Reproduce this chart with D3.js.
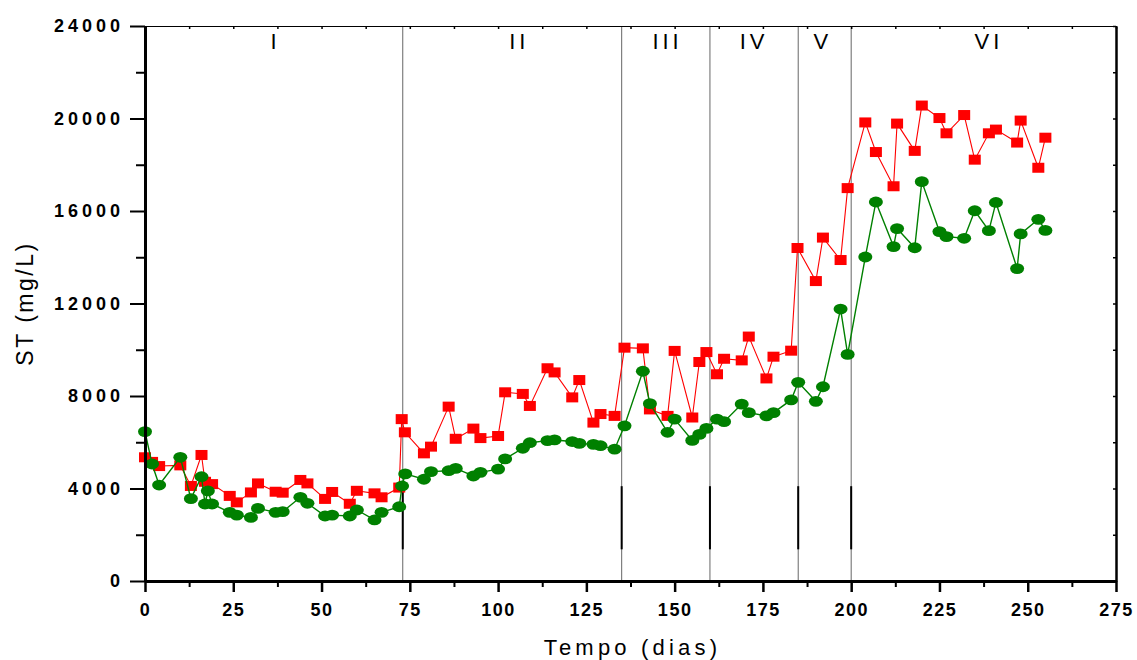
<!DOCTYPE html>
<html>
<head>
<meta charset="utf-8">
<script src="https://cdn.jsdelivr.net/npm/d3@7"></script>
<style>
  html, body { margin: 0; padding: 0; background: #fff; }
  svg { display: block; font-family: "Liberation Sans", Arial, sans-serif; }
</style>
</head>
<body>
<svg id="chart" width="1137" height="660"></svg>
<script>
// Sólidos totais ao longo do tempo (dias) — duas séries
const daysA = [0, 2, 4, 10, 13, 16, 17, 19, 24, 26, 30, 32, 37, 39, 44, 46, 51, 53, 58, 60, 65, 67, 72, 72.7, 73.6,
  79, 81, 86, 88, 93, 95, 100, 102, 107, 109, 114, 116, 121, 123, 127, 129, 133, 135.8,
  141, 143, 148, 150, 155, 157, 159, 162, 164, 169, 171, 176, 178, 183,
  184.8, 190, 192, 197, 199, 204, 207, 212, 213, 218, 220, 225, 227, 232, 235, 239, 241, 247, 248, 253, 255];
const valuesA = [5350, 5150, 4970, 5000, 4110, 5450, 4290, 4190, 3680, 3400, 3830, 4220, 3860, 3820, 4370, 4220, 3550, 3850, 3340, 3900, 3790, 3620, 4040, 7000, 6430,
  5520, 5810, 7540, 6150, 6590, 6180, 6270, 8160, 8090, 7570, 9200, 9020, 7940, 8690, 6850, 7220, 7140, 10090,
  10060, 7420, 7140, 9950, 7070, 9470, 9900, 8940, 9610, 9540, 10570, 8760, 9700, 9960,
  14400, 12970, 14850, 13880, 16990, 19830, 18550, 17070, 19780, 18600, 20560, 20020, 19360, 20150, 18220, 19360, 19520, 18960, 19910, 17870, 19170];

const daysB = [0, 2, 4, 10, 13, 16, 17, 17.8, 19, 24, 26, 30, 32, 37, 39, 44, 46, 51, 53, 58, 60, 65, 67, 72, 72.8, 73.7,
  79, 81, 86, 88, 93, 95, 100, 102, 107, 109, 114, 116, 121, 123, 127, 129, 133, 135.8,
  141, 143, 148, 150, 155, 157, 159, 162, 164, 169, 171, 176, 178, 183,
  185, 190, 192, 197, 199, 204, 207, 212, 213, 218, 220, 225, 227, 232, 235, 239, 241, 247, 248, 253, 255];
const valuesB = [6460, 5060, 4150, 5350, 3560, 4510, 3330, 3900, 3330, 2970, 2850, 2750, 3140, 2970, 3000, 3620, 3360, 2810, 2850, 2810, 3070, 2640, 2970, 3210, 4110, 4630,
  4400, 4730, 4770, 4870, 4540, 4700, 4840, 5280, 5740, 5980, 6070, 6100, 6030, 5950, 5910, 5850, 5700, 6710,
  9070, 7670, 6430, 7000, 6080, 6340, 6600, 7000, 6890, 7650, 7280, 7140, 7280, 7830,
  8590, 7770, 8400, 11760, 9800, 14010, 16390, 14460, 15240, 14410, 17270, 15110, 14890, 14820, 16010, 15150, 16370, 13510, 15010, 15640, 15160];

// Fases operacionais
const phaseBounds = [73, 135, 160, 185, 200];
const phaseNames = ["I", "II", "III", "IV", "V", "VI"];
const phaseLabelDays = [37, 106, 148, 172.5, 192, 239];

// Eixos
const xTicks = [0, 25, 50, 75, 100, 125, 150, 175, 200, 225, 250, 275];
const yTicks = [0, 4000, 8000, 12000, 16000, 20000, 24000];

const margin = { left: 145, right: 1137 - 1116, top: 26, bottom: 660 - 581 };
const W = 1137, H = 660;
const svg = d3.select("#chart");

const x = d3.scaleLinear().domain([0, 275]).range([margin.left, W - margin.right]);
const y = d3.scaleLinear().domain([0, 24000]).range([H - margin.bottom, margin.top]);

// Linhas de separação das fases
const phases = svg.append("g");
phases.selectAll("line.sep").data(phaseBounds).join("line")
  .attr("class", "sep")
  .attr("x1", d => x(d)).attr("x2", d => x(d))
  .attr("y1", y(24000)).attr("y2", y(0))
  .attr("stroke", "#666").attr("stroke-width", 1);
phases.selectAll("line.seg").data(phaseBounds).join("line")
  .attr("class", "seg")
  .attr("x1", d => x(d)).attr("x2", d => x(d))
  .attr("y1", y(4100)).attr("y2", y(1370))
  .attr("stroke", "#000").attr("stroke-width", 2);
phases.selectAll("text").data(phaseNames).join("text")
  .attr("x", (d, i) => x(phaseLabelDays[i]))
  .attr("y", 49)
  .attr("text-anchor", "middle")
  .attr("font-size", 22)
  .attr("letter-spacing", 4)
  .attr("fill", "#000")
  .text(d => d);

// Séries
function drawSeries(days, values, color, lineWidth, shape) {
  const pts = days.map((d, i) => [d, values[i]]);
  const g = svg.append("g");
  g.append("path")
    .datum(pts)
    .attr("fill", "none")
    .attr("stroke", color)
    .attr("stroke-width", lineWidth)
    .attr("d", d3.line().x(p => x(p[0])).y(p => y(p[1])));
  if (shape === "square") {
    g.selectAll("rect").data(pts).join("rect")
      .attr("x", p => x(p[0]) - 6).attr("y", p => y(p[1]) - 5)
      .attr("width", 12).attr("height", 10)
      .attr("fill", color);
  } else {
    g.selectAll("ellipse").data(pts).join("ellipse")
      .attr("cx", p => x(p[0])).attr("cy", p => y(p[1]))
      .attr("rx", 7).attr("ry", 5.4)
      .attr("fill", color);
  }
}
drawSeries(daysA, valuesA, "#ff0000", 1.1, "square");
drawSeries(daysB, valuesB, "#008000", 1.4, "circle");

// Eixo superior (ticks para dentro)
const topAxis = svg.append("g").attr("transform", `translate(0,${y(24000)})`)
  .call(d3.axisTop(x).tickValues(d3.range(0, 276, 12.5)).tickSizeInner(-3).tickSizeOuter(0).tickFormat(""));
topAxis.select(".domain").attr("stroke-width", 1.2);
topAxis.selectAll(".tick line").attr("stroke-width", 1.5);

// Eixo direito (ticks para dentro)
const rightAxis = svg.append("g").attr("transform", `translate(${x(275)},0)`)
  .call(d3.axisRight(y).tickValues(d3.range(0, 24001, 2000)).tickSizeInner(-3).tickSizeOuter(0).tickFormat(""));
rightAxis.select(".domain").attr("stroke-width", 2.5);
rightAxis.selectAll(".tick line").attr("stroke-width", 1.5);

// Eixo esquerdo
const leftMinor = svg.append("g").attr("transform", `translate(${x(0)},0)`)
  .call(d3.axisLeft(y).tickValues(d3.range(2000, 24000, 4000)).tickSizeInner(9).tickSizeOuter(0).tickFormat(""));
leftMinor.select(".domain").remove();
leftMinor.selectAll(".tick line").attr("stroke-width", 2);

const leftAxis = svg.append("g").attr("transform", `translate(${x(0)},0)`)
  .call(d3.axisLeft(y).tickValues(yTicks).tickSizeInner(15).tickSizeOuter(0).tickPadding(6).tickFormat(d3.format("d")));
leftAxis.select(".domain").attr("stroke-width", 3);
leftAxis.selectAll(".tick line").attr("stroke-width", 2);
leftAxis.selectAll(".tick text")
  .attr("font-family", "Liberation Sans, Arial, sans-serif")
  .attr("font-size", 18).attr("font-weight", "bold").attr("letter-spacing", 4).attr("fill", "#000");

// Eixo inferior
const bottomMinor = svg.append("g").attr("transform", `translate(0,${y(0)})`)
  .call(d3.axisBottom(x).tickValues(d3.range(12.5, 275, 25)).tickSizeInner(6).tickSizeOuter(0).tickFormat(""));
bottomMinor.select(".domain").remove();
bottomMinor.selectAll(".tick line").attr("stroke-width", 2);

const bottomAxis = svg.append("g").attr("transform", `translate(0,${y(0)})`)
  .call(d3.axisBottom(x).tickValues(xTicks).tickSizeInner(11).tickSizeOuter(0).tickPadding(11).tickFormat(d3.format("d")));
bottomAxis.select(".domain").attr("stroke-width", 3);
bottomAxis.selectAll(".tick line").attr("stroke-width", 2.5);
bottomAxis.selectAll(".tick text")
  .attr("font-family", "Liberation Sans, Arial, sans-serif")
  .attr("font-size", 18).attr("font-weight", "bold").attr("letter-spacing", 1.5).attr("fill", "#000");

// Títulos dos eixos
svg.append("text")
  .attr("x", (x(0) + x(275)) / 2 + 2)
  .attr("y", 655)
  .attr("text-anchor", "middle")
  .attr("font-size", 22)
  .attr("letter-spacing", 4.2)
  .text("Tempo (dias)");

svg.append("text")
  .attr("transform", `translate(33,${(y(0) + y(24000)) / 2}) rotate(-90)`)
  .attr("text-anchor", "middle")
  .attr("font-size", 23)
  .attr("letter-spacing", 2.5)
  .text("ST (mg/L)");
</script>
</body>
</html>
